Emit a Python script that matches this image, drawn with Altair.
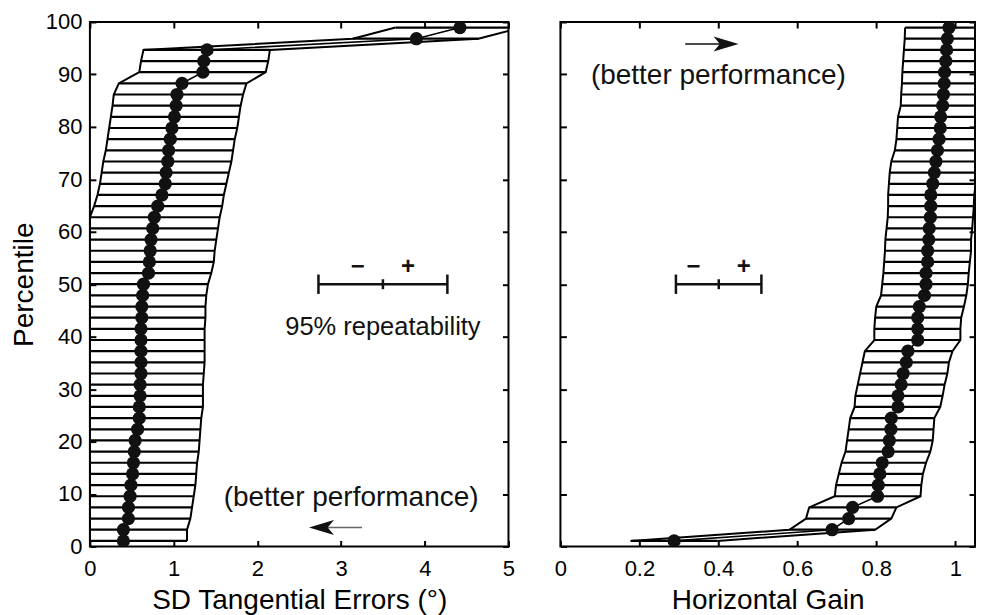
import altair as alt
import pandas as pd

FONT = "Liberation Sans"

# percentile rank of each participant (47 rows)
percentile = [1.06, 3.19, 5.32, 7.45, 9.57, 11.70, 13.83, 15.96, 18.09, 20.21,
              22.34, 24.47, 26.60, 28.72, 30.85, 32.98, 35.11, 37.23, 39.36, 41.49,
              43.62, 45.74, 47.87, 50.00, 52.13, 54.26, 56.38, 58.51, 60.64, 62.77,
              64.89, 67.02, 69.15, 71.28, 73.40, 75.53, 77.66, 79.79, 81.91, 84.04,
              86.17, 88.30, 90.43, 92.55, 94.68, 96.81, 98.94]

# left panel: SD tangential errors (deg)
sd_value = [0.40, 0.40, 0.46, 0.46, 0.48, 0.49, 0.51, 0.52, 0.53, 0.54,
            0.57, 0.59, 0.59, 0.60, 0.60, 0.61, 0.61, 0.61, 0.61, 0.61,
            0.62, 0.62, 0.63, 0.64, 0.70, 0.71, 0.72, 0.73, 0.75, 0.77,
            0.81, 0.86, 0.90, 0.91, 0.93, 0.94, 0.96, 0.98, 1.01, 1.03,
            1.04, 1.10, 1.35, 1.36, 1.40, 3.90, 4.42]
sd_low = [0.0] * 30 + [0.05, 0.09, 0.12, 0.14, 0.16, 0.19, 0.21, 0.23, 0.25, 0.27,
                       0.285, 0.345, 0.59, 0.61, 0.64, 3.14, 3.65]
sd_high = [1.16, 1.16, 1.20, 1.22, 1.24, 1.26, 1.27, 1.28, 1.30, 1.31,
           1.32, 1.33, 1.35, 1.35, 1.35, 1.36, 1.37, 1.37, 1.37, 1.37,
           1.38, 1.38, 1.39, 1.41, 1.45, 1.48, 1.49, 1.51, 1.53, 1.55,
           1.58, 1.60, 1.63, 1.66, 1.69, 1.71, 1.73, 1.76, 1.78, 1.80,
           1.83, 1.87, 2.10, 2.13, 2.15, 4.64, 5.15]

# right panel: horizontal gain
gain_value = [0.288, 0.688, 0.730, 0.740, 0.803, 0.805, 0.809, 0.815, 0.830, 0.833,
              0.837, 0.838, 0.855, 0.855, 0.863, 0.868, 0.876, 0.880, 0.905, 0.905,
              0.905, 0.909, 0.922, 0.926, 0.926, 0.930, 0.930, 0.933, 0.934, 0.937,
              0.938, 0.938, 0.943, 0.947, 0.951, 0.955, 0.959, 0.962, 0.963, 0.968,
              0.970, 0.972, 0.973, 0.976, 0.978, 0.980, 0.984]
gain_low = [0.178, 0.580, 0.622, 0.630, 0.695, 0.698, 0.705, 0.712, 0.722, 0.726,
            0.730, 0.734, 0.745, 0.747, 0.753, 0.759, 0.765, 0.771, 0.795, 0.795,
            0.797, 0.800, 0.812, 0.815, 0.818, 0.820, 0.822, 0.823, 0.826, 0.829,
            0.830, 0.830, 0.832, 0.834, 0.838, 0.847, 0.851, 0.853, 0.855, 0.862,
            0.863, 0.865, 0.866, 0.868, 0.870, 0.872, 0.873]
gain_high = [0.397, 0.797, 0.838, 0.851, 0.912, 0.914, 0.918, 0.926, 0.937, 0.943,
             0.945, 0.947, 0.962, 0.968, 0.973, 0.980, 0.984, 0.993, 1.013, 1.013,
             1.015, 1.022, 1.028, 1.032, 1.034, 1.037, 1.040, 1.040, 1.043, 1.045,
             1.047, 1.048, 1.052, 1.056, 1.060, 1.064, 1.068, 1.071, 1.072, 1.076,
             1.079, 1.081, 1.082, 1.085, 1.087, 1.089, 1.093]

y_ticks = [0, 10, 20, 30, 40, 50, 60, 70, 80, 90, 100]
sd_ticks = [0, 1, 2, 3, 4, 5]
gain_ticks = [0, 0.2, 0.4, 0.6, 0.8, 1.0]

# annotations (data coordinates)
sd_bar = {"low": 2.73, "mid": 3.5, "high": 4.27, "p": 50, "cap": [48.15, 51.85], "tick": [49.05, 50.95]}
gain_bar = {"low": 0.2925, "mid": 0.401, "high": 0.509, "p": 50, "cap": [48.15, 51.85], "tick": [49.05, 50.95]}
sd_signs = {"x": [3.20, 3.80], "p": [51.9, 51.9], "t": ["\u2212", "+"]}
gain_signs = {"x": [0.337, 0.4645], "p": [51.9, 51.9], "t": ["\u2212", "+"]}
sd_notes = {"x": [3.5, 3.12], "p": [40.27, 7.8], "t": ["95% repeatability", "(better performance)"], "fs": [25.5, 28]}
gain_notes = {"x": [0.4], "p": [88.1], "t": ["(better performance)"], "fs": [28]}
sd_arrow = {"x": 2.80, "x2": 3.25, "p": 3.62, "head": 2.766, "dir": "left", "color": "#666666"}
gain_arrow = {"x": 0.316, "x2": 0.44, "p": 95.8, "head": 0.4195, "dir": "right", "color": "#111111"}

LEFT_HEAD = "M -1 0 L 1 -0.6 L 0.5 0 L 1 0.6 Z"
RIGHT_HEAD = "M 1 0 L -1 -0.6 L -0.5 0 L -1 0.6 Z"


def make_panel(values, lows, highs, xdomain, xticks, xtitle, show_y,
               bar, signs, notes, arrow, width):
    df = pd.DataFrame({"p": percentile, "v": values, "lo": lows, "hi": highs})
    xs = alt.Scale(domain=xdomain, nice=False, zero=False)
    ys = alt.Scale(domain=[0, 100], nice=False, zero=False)
    common = dict(offset=-6, tickSize=6, tickWidth=2, tickColor="black",
                  domain=False, grid=False)
    xa = alt.Axis(values=xticks, format="~g", title=xtitle, orient="bottom",
                  labelPadding=12, labelFontSize=22, labelFont=FONT,
                  labelColor="black", labelFlush=False, labelOverlap=False,
                  titleFontSize=28, titleFont=FONT, titleFontWeight="normal",
                  titleColor="black", titleBaseline="alphabetic", titleY=68.6,
                  **common)
    if show_y:
        ya = alt.Axis(values=y_ticks, title="Percentile", orient="left",
                      labelPadding=8, labelFontSize=22, labelFont=FONT,
                      labelColor="black", labelFlush=False, labelOverlap=False,
                      titleFontSize=28, titleFont=FONT, titleFontWeight="normal",
                      titleColor="black", titleBaseline="alphabetic",
                      titleAngle=270, titleX=-63.4, **common)
    else:
        ya = alt.Axis(values=y_ticks, title=None, labels=False, orient="left", **common)
    top_axis = alt.Axis(values=xticks, title=None, labels=False, orient="top", **common)
    right_axis = alt.Axis(values=y_ticks, title=None, labels=False, orient="right", **common)

    def X(f):
        return alt.X(f, scale=xs, axis=None)

    def Y(f):
        return alt.Y(f, scale=ys, axis=None)

    rows = alt.Chart(df).mark_rule(color="black", strokeWidth=2.2, clip=True).encode(
        x=alt.X("lo:Q", scale=xs, axis=xa), x2="hi:Q",
        y=alt.Y("p:Q", scale=ys, axis=ya))
    lo_line = alt.Chart(df).mark_line(color="black", strokeWidth=2, clip=True).encode(
        x=X("lo:Q"), y=Y("p:Q"), order="p:Q")
    hi_line = alt.Chart(df).mark_line(color="black", strokeWidth=2, clip=True).encode(
        x=X("hi:Q"), y=Y("p:Q"), order="p:Q")
    v_line = alt.Chart(df).mark_line(color="black", strokeWidth=1.6, clip=True).encode(
        x=X("v:Q"), y=Y("p:Q"), order="p:Q")
    dots = alt.Chart(df).mark_circle(color="#111111", size=175, opacity=1, clip=True).encode(
        x=X("v:Q"), y=Y("p:Q"))

    bar_df = pd.DataFrame({
        "x": [bar["low"], bar["low"], bar["high"], bar["mid"]],
        "x2": [bar["high"], bar["low"], bar["high"], bar["mid"]],
        "y": [bar["p"], bar["cap"][0], bar["cap"][0], bar["tick"][0]],
        "y2": [bar["p"], bar["cap"][1], bar["cap"][1], bar["tick"][1]],
    })
    bar_layer = alt.Chart(bar_df).mark_rule(color="#111111", strokeWidth=2.5).encode(
        x=X("x:Q"), x2="x2:Q", y=Y("y:Q"), y2="y2:Q")

    sign_layer = alt.Chart(pd.DataFrame(signs)).mark_text(
        font=FONT, fontSize=24, fontWeight="bold", align="center",
        baseline="alphabetic", color="#111111").encode(
        x=X("x:Q"), y=Y("p:Q"), text="t:N")

    note_layer = alt.Chart(pd.DataFrame(notes)).mark_text(
        font=FONT, align="center", baseline="alphabetic", color="#111111").encode(
        x=X("x:Q"), y=Y("p:Q"), text="t:N",
        size=alt.Size("fs:Q", scale=None, legend=None))

    arr_df = pd.DataFrame({"x": [arrow["x"]], "x2": [arrow["x2"]], "p": [arrow["p"]],
                           "h": [arrow["head"]]})
    arr_line = alt.Chart(arr_df).mark_rule(color=arrow["color"], strokeWidth=1.5).encode(
        x=X("x:Q"), x2="x2:Q", y=Y("p:Q"))
    arr_head = alt.Chart(arr_df).mark_point(
        shape=LEFT_HEAD if arrow["dir"] == "left" else RIGHT_HEAD,
        filled=True, size=625, color="#111111", opacity=1, strokeWidth=0).encode(
        x=X("h:Q"), y=Y("p:Q"))

    mirror = alt.Chart(df).mark_point(opacity=0).encode(
        x=alt.X("v:Q", scale=xs, axis=top_axis),
        y=alt.Y("p:Q", scale=ys, axis=right_axis))

    return alt.layer(rows, lo_line, hi_line, v_line, dots, bar_layer, sign_layer,
                     note_layer, arr_line, arr_head, mirror).resolve_axis(
        x="independent", y="independent").properties(width=width, height=525)


left = make_panel(sd_value, sd_low, sd_high, [0, 5], sd_ticks,
                  "SD Tangential Errors (\u00b0)", True,
                  sd_bar, sd_signs, sd_notes, sd_arrow, 419)
right = make_panel(gain_value, gain_low, gain_high, [0, 1.05], gain_ticks,
                   "Horizontal Gain", False,
                   gain_bar, gain_signs, gain_notes, gain_arrow, 415)

chart = alt.hconcat(left, right, spacing=52, bounds="flush").properties(
    padding={"left": 1, "top": 1.7, "right": 0, "bottom": 0}
).configure(font=FONT).configure_view(stroke="black", strokeWidth=2)

chart.save("out.html", embed_options={"renderer": "svg", "actions": False})
